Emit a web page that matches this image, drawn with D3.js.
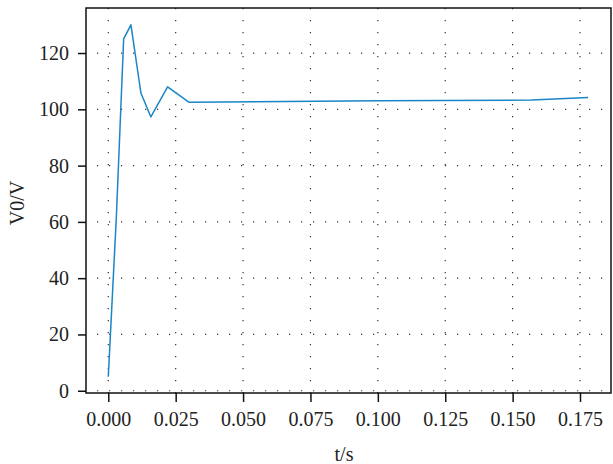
<!DOCTYPE html>
<html>
<head>
<meta charset="utf-8">
<script src="https://cdn.jsdelivr.net/npm/d3@7"></script>
<style>
  body { margin: 0; background: #fff; }
  svg text { font-family: "Liberation Serif", "DejaVu Serif", serif; fill: #222; }
</style>
</head>
<body>
<div id="chart"></div>
<script>
// time (s) and output voltage (V)
const timeVals = [0, 0.003, 0.0057, 0.0084, 0.0121, 0.0158, 0.022, 0.030, 0.100, 0.157, 0.178];
const voltVals = [5, 62, 125, 130, 105.8, 97.3, 108, 102.5, 103.0, 103.3, 104.2];
const xTicks = [0, 0.025, 0.05, 0.075, 0.1, 0.125, 0.15, 0.175];
const yTicks = [0, 20, 40, 60, 80, 100, 120];

const W = 613, H = 464;
const margin = {left: 86, right: 2, top: 8, bottom: 71};
const width = W - margin.left - margin.right,
      height = H - margin.top - margin.bottom;

const svg = d3.select('#chart')
    .append('svg')
    .attr('width', W)
    .attr('height', H)
    .append('g')
    .attr('transform', 'translate(' + margin.left + ',' + margin.top + ')');

const x = d3.scaleLinear()
    .domain([-0.00827, 0.1865])
    .range([0, width]);

const y = d3.scaleLinear()
    .domain([-0.8, 136])
    .range([height, 0]);

// dotted grid
svg.append('g')
    .selectAll('line')
    .data(xTicks)
    .enter()
    .append('line')
    .attr('x1', d => x(d)).attr('x2', d => x(d))
    .attr('y1', 0).attr('y2', height)
    .attr('stroke', '#333')
    .attr('stroke-width', 1.2)
    .attr('stroke-dasharray', '1.2,10.8');

svg.append('g')
    .selectAll('line')
    .data(yTicks)
    .enter()
    .append('line')
    .attr('x1', 11).attr('x2', width)
    .attr('y1', d => y(d)).attr('y2', d => y(d))
    .attr('stroke', '#333')
    .attr('stroke-width', 1.2)
    .attr('stroke-dasharray', '1.2,10.8');

// frame
svg.append('rect')
    .attr('x', 0).attr('y', 0)
    .attr('width', width).attr('height', height)
    .attr('fill', 'none')
    .attr('stroke', '#111')
    .attr('stroke-width', 1.5);

// axes
const xAxis = svg.append('g')
    .attr('transform', 'translate(0,' + height + ')')
    .call(d3.axisBottom(x).tickValues(xTicks).tickFormat(d3.format('.3f')).tickSize(9).tickPadding(10));

const yAxis = svg.append('g')
    .call(d3.axisLeft(y).tickValues(yTicks).tickSize(8).tickPadding(9));

[xAxis, yAxis].forEach(a => {
    a.attr('font-size', null).attr('font-family', null);
    a.select('.domain').remove();
    a.selectAll('.tick line').attr('stroke', '#111').attr('stroke-width', 1.5);
    a.selectAll('.tick text')
        .style('font-size', '20px')
        .style('font-family', '"Liberation Serif", serif')
        .attr('fill', '#1a1a1a');
});

// series
const data = timeVals.map((t, i) => ({t: t, v: voltVals[i]}));

svg.append('path')
    .datum(data)
    .attr('fill', 'none')
    .attr('stroke', '#1a86c6')
    .attr('stroke-width', 1.5)
    .attr('stroke-linejoin', 'round')
    .attr('d', d3.line().x(d => x(d.t)).y(d => y(d.v)));

// axis titles
svg.append('text')
    .attr('x', 344 - margin.left)
    .attr('y', 461 - margin.top)
    .attr('text-anchor', 'middle')
    .style('font-size', '20px')
    .text('t/s');

svg.append('text')
    .attr('transform', 'translate(' + (24 - margin.left) + ',' + (203 - margin.top) + ') rotate(-90)')
    .attr('text-anchor', 'middle')
    .style('font-size', '20px')
    .text('V0/V');
</script>
</body>
</html>
